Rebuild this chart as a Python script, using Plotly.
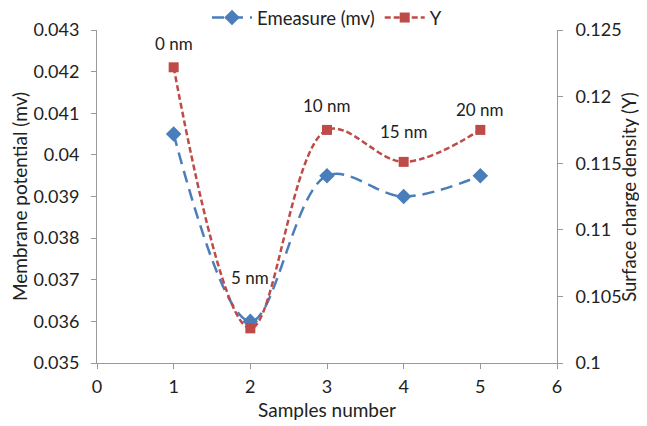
import plotly.graph_objects as go

samples = [1, 2, 3, 4, 5]
emeasure = [0.0405, 0.0360, 0.0395, 0.0390, 0.0395]
y_density = [0.1222, 0.1026, 0.1175, 0.1151, 0.1175]
labels = ["0 nm", "5 nm", "10 nm", "15 nm", "20 nm"]
label_y = [0.1240, 0.1064, 0.1193, 0.1174, 0.1190]
right_title = "Surface charge density (Y)"

FONT = "Lato, 'Open Sans', sans-serif"
blue = "#4A7EBB"
red = "#BE4B48"

fig = go.Figure()
fig.add_trace(go.Scatter(
    x=samples, y=emeasure, name="Emeasure (mv)", mode="lines+markers",
    line=dict(color=blue, width=2.5, dash="12px,7px", shape="spline", smoothing=1),
    marker=dict(symbol="diamond", size=12, color=blue),
))
fig.add_trace(go.Scatter(
    x=samples, y=y_density, name="Y", mode="lines+markers", yaxis="y2",
    line=dict(color=red, width=2.5, dash="6px,3px", shape="spline", smoothing=1),
    marker=dict(symbol="square", size=10, color=red),
))

for t, xv, yv in zip(labels, samples, label_y):
    fig.add_annotation(x=xv, y=yv, yref="y2", text=t, showarrow=False,
                       font=dict(size=17, color="#222", family=FONT))

fig.add_annotation(x=1.155, y=0.5, xref="paper", yref="paper", text=right_title,
                   textangle=-90, showarrow=False, xanchor="center", yanchor="middle",
                   font=dict(size=18.5, color="#222", family=FONT))

axis_common = dict(showgrid=False, zeroline=False, showline=True, linecolor="#999",
                   linewidth=1, ticks="outside", tickcolor="#999", ticklen=5,
                   tickfont=dict(size=18, color="#222", family=FONT))

fig.update_layout(
    width=647, height=426,
    margin=dict(l=89, r=98, t=22, b=71, autoexpand=False),
    paper_bgcolor="white", plot_bgcolor="white",
    font=dict(family=FONT, size=17, color="#222"),
    showlegend=True,
    legend=dict(orientation="h", x=0.5, xanchor="center", y=1.036, yanchor="middle",
                font=dict(size=18.5, family=FONT), itemwidth=40, bgcolor="rgba(0,0,0,0)"),
    xaxis=dict(range=[0, 6], dtick=1, ticklabelstandoff=2,
               title=dict(text="Samples number", font=dict(size=19), standoff=8),
               **axis_common),
    yaxis=dict(range=[0.035, 0.043], dtick=0.001, tickformat="~g", ticklabelstandoff=8,
               title=dict(text="Membrane potential (mv)", font=dict(size=19), standoff=4), **axis_common),
    yaxis2=dict(range=[0.1, 0.125], dtick=0.005, tickformat="~g", overlaying="y", side="right",
                ticklabelstandoff=9, **axis_common),
)

fig.write_html("out.html")
